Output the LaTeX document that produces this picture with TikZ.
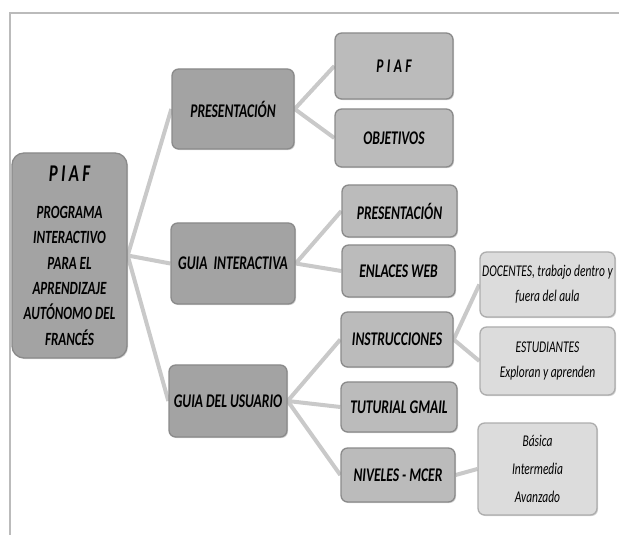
\documentclass[tikz,border=0pt]{standalone}
\usepackage{fontspec}
\setmainfont{Carlito}[FakeStretch=0.7]
\usetikzlibrary{shadows,backgrounds}
\definecolor{darkbox}{HTML}{A3A3A3}
\definecolor{midbox}{HTML}{BBBBBB}
\definecolor{lightbox}{HTML}{DCDCDC}
\definecolor{boxline}{HTML}{8A8A8A}
\definecolor{linkcol}{HTML}{C9C9C9}
\definecolor{framecol}{HTML}{BBBBBB}
\tikzset{
  sz/.style 2 args={minimum width={#1*0.75pt}, minimum height={#2*0.75pt}},
  basebox/.style={draw=boxline, line width=1pt, rounded corners=5pt, inner sep=1pt, align=center,
     drop shadow={opacity=0.35, shadow xshift=0.8pt, shadow yshift=-0.8pt}},
  rootbox/.style={basebox, fill=darkbox, rounded corners=9pt, font=\fontsize{14}{19}\selectfont\bfseries\itshape},
  lvlone/.style={basebox, fill=darkbox, font=\fontsize{14.5}{18}\selectfont\bfseries\itshape},
  lvltwo/.style={basebox, fill=midbox, font=\fontsize{14.5}{18}\selectfont\bfseries\itshape},
  leafbox/.style={basebox, fill=lightbox, draw=boxline!70, font=\fontsize{12.3}{19}\selectfont\itshape},
  link/.style={draw=linkcol, line width=3pt},
}
\begin{document}
\begin{tikzpicture}[x=0.75pt, y=-0.75pt]
\useasboundingbox (0,0) rectangle (619,535);
\draw[framecol, line width=1.5pt] (619,13) -- (10,13) -- (10,535);

\node[rootbox, sz={115}{205}] (root) at (69.5,255.5)
  {{\fontsize{18}{20}\selectfont P\kern2.5pt I\kern2.5pt A\kern2.5pt F}\\[9pt]PROGRAMA\\INTERACTIVO\\PARA EL\\APRENDIZAJE\\AUTÓNOMO DEL\\FRANCÉS};

\node[lvlone, sz={122}{80}] (pres) at (233,109) {PRESENTACIÓN};
\node[lvlone, sz={124}{81}] (guiai) at (233,263.5) {GUIA\ \ INTERACTIVA};
\node[lvlone, sz={118}{72}] (guiau) at (228,401) {GUIA DEL USUARIO};

\node[lvltwo, sz={118}{66}] (piaf) at (394,66) {P\kern2.5pt I\kern2.5pt A\kern2.5pt F};
\node[lvltwo, sz={118}{58}] (obj) at (394,138) {OBJETIVOS};
\node[lvltwo, sz={115}{52}] (pres2) at (399.5,211) {PRESENTACIÓN};
\node[lvltwo, sz={113}{52}] (enl) at (398.5,271) {ENLACES WEB};
\node[lvltwo, sz={112}{55}] (inst) at (397,339.5) {INSTRUCCIONES};
\node[lvltwo, sz={116}{50}] (tut) at (399,407) {TUTURIAL GMAIL};
\node[lvltwo, sz={114}{54}] (niv) at (398,475) {NIVELES - MCER};

\node[leafbox, sz={135}{65}] (doc) at (547.5,284.5) {DOCENTES, trabajo dentro y\\fuera del aula};
\node[leafbox, sz={135}{68}] (est) at (547.5,361) {ESTUDIANTES\\Exploran y aprenden};
\node[leafbox, sz={119}{92}, font=\fontsize{12.3}{21}\selectfont\itshape] (bas) at (537.5,469) {Básica\\Intermedia\\Avanzado};

\begin{scope}[on background layer]
\draw[link] (root.east) -- (pres.west);
\draw[link] (root.east) -- (guiai.west);
\draw[link] (root.east) -- (guiau.west);
\draw[link] (pres.east) -- (piaf.west);
\draw[link] (pres.east) -- (obj.west);
\draw[link] (guiai.east) -- (pres2.west);
\draw[link] (guiai.east) -- (enl.west);
\draw[link] (guiau.east) -- (inst.west);
\draw[link] (guiau.east) -- (tut.west);
\draw[link] (guiau.east) -- (niv.west);
\draw[link] (inst.east) -- (doc.west);
\draw[link] (inst.east) -- (est.west);
\draw[link] (niv.east) -- (bas.west);
\end{scope}
\end{tikzpicture}
\end{document}
